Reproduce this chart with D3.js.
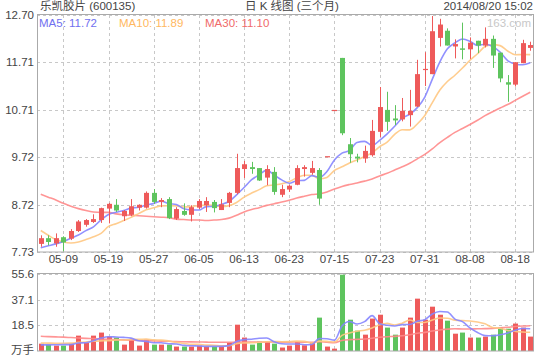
<!DOCTYPE html>
<html><head><meta charset="utf-8">
<script src="https://cdn.jsdelivr.net/npm/d3@7"></script>
<style>
body{margin:0;background:#fff}
svg{display:block}
text{font-family:"Liberation Sans",Arial,"Noto Sans CJK SC",sans-serif}
</style>
</head><body>
<svg id="c" width="540" height="360"></svg>
<script>
// ---- data ----
const dates = ["05-06","05-07","05-08","05-09","05-12","05-13","05-14","05-15","05-16","05-19",
"05-20","05-21","05-22","05-23","05-26","05-27","05-28","05-29","05-30","06-03",
"06-04","06-05","06-06","06-09","06-10","06-11","06-12","06-13","06-16","06-17",
"06-18","06-19","06-20","06-23","06-24","06-25","06-26","06-27","06-30","07-15",
"07-16","07-17","07-18","07-21","07-22","07-23","07-24","07-25","07-28","07-29",
"07-30","07-31","08-01","08-04","08-05","08-06","08-07","08-08","08-11","08-12",
"08-13","08-14","08-15","08-18","08-19","08-20"];
const open = [7.90,8.02,7.91,8.04,8.01,8.17,8.30,8.36,8.40,8.64,
8.72,8.48,8.51,8.66,8.66,8.97,8.78,8.84,8.43,8.59,
8.51,8.66,8.71,8.78,8.61,8.76,8.97,9.47,9.51,9.49,
9.29,9.41,8.93,9.04,9.14,9.47,9.39,9.45,9.74,10.71,
11.80,9.99,9.73,9.69,9.76,10.25,10.71,10.53,10.51,10.60,
10.78,11.55,11.46,12.22,12.37,12.04,12.00,11.98,12.16,12.06,
12.20,11.91,11.29,11.24,11.69,12.01];
const high = [8.08,8.08,8.12,8.06,8.21,8.40,8.42,8.52,8.66,8.76,
8.84,8.61,8.84,8.73,9.00,9.05,8.86,8.88,8.67,8.75,
8.71,8.84,8.88,8.82,8.84,8.99,9.79,9.64,9.62,9.49,
9.55,9.51,9.14,9.14,9.55,9.55,9.64,9.49,9.74,10.71,
11.80,10.12,9.79,9.96,10.50,11.19,11.09,10.81,10.96,11.13,
11.76,11.92,12.68,12.62,12.42,12.19,12.54,12.23,12.16,12.44,
12.27,11.91,11.44,11.71,12.18,12.14];
const low = [7.84,7.87,7.84,7.74,7.98,8.15,8.26,8.34,8.34,8.33,
8.57,8.38,8.48,8.60,8.64,8.74,8.67,8.42,8.40,8.49,
8.37,8.63,8.57,8.56,8.61,8.67,8.94,9.28,9.37,9.22,
9.13,8.93,8.88,8.99,9.13,9.31,9.35,8.72,9.74,10.71,
10.18,9.60,9.61,9.60,9.73,10.14,10.27,10.39,10.47,10.36,
10.77,11.21,11.46,12.04,12.06,11.79,11.77,11.78,11.90,12.02,
11.59,11.29,10.88,11.20,11.69,11.95];
const close = [8.02,7.94,8.02,7.93,8.17,8.37,8.40,8.42,8.65,8.74,
8.60,8.59,8.69,8.72,8.97,8.78,8.82,8.44,8.63,8.51,
8.67,8.80,8.80,8.65,8.73,8.97,9.49,9.57,9.47,9.23,
9.47,8.99,9.05,9.12,9.49,9.51,9.49,8.85,9.74,10.71,
10.22,9.78,9.69,9.85,10.27,10.77,10.46,10.49,10.69,10.69,
11.46,11.57,12.36,12.50,12.06,12.09,11.97,12.12,12.06,12.20,
11.85,11.37,11.24,11.71,12.11,12.07];
const volume = [5.3,4.6,3.9,3.9,5.3,11.1,5.8,11.1,13.3,10.4,
9.7,4.6,8.4,3.9,8.2,4.6,4.6,4.6,3.2,3.2,
3.2,3.9,3.2,3.2,3.2,6.0,19.0,9.7,4.6,6.8,
6.8,5.3,2.5,3.9,7.0,4.1,6.0,24.1,3.2,1.7,
55.1,22.6,14.7,11.8,23.4,26.2,16.9,11.8,16.9,24.1,
37.8,22.6,32.0,26.2,21.9,12.5,13.3,9.7,9.7,10.4,
11.8,16.9,16.1,19.8,16.9,10.4];
const ma5Head = [7.82,7.86,7.90,7.95];
const ma10Head = [8.18,8.08,7.99,7.94,7.92,7.94,7.99,8.05,8.12];
const ma30Head = [8.94,8.88,8.82,8.75,8.69,8.64,8.60,8.57,8.56,8.56,
8.53,8.51,8.50,8.49,8.48,8.47,8.46,8.45,8.42,8.41,
8.40,8.40,8.39,8.40,8.41,8.44,8.50,8.57,8.62];
const volMa5Head = [4.4,4.4,4.5,4.6];
const volMa10Head = [5.8,5.7,5.6,5.6,5.7,6.2,6.5,7.0,7.3];
const volMa30Head = [10.6,10.4,10.2,10.0,9.7,9.4,9.1,8.9,8.6,8.4,
8.2,8.0,7.8,7.6,7.5,7.3,7.1,7.0,6.8,6.7,
6.6,6.5,6.4,6.3,6.3,6.3,6.4,6.4,6.4];
const xTickLabels = ["05-09","05-19","05-27","06-05","06-13","06-23","07-15","07-23","07-31","08-08","08-18"];
const priceTicks = [12.70,11.706,10.712,9.718,8.724,7.73];
const volTicks = [55.6,37.067,18.533];
const legendNames = ["MA5","MA10","MA30"];
const legendValues = ["11.72","11.89","11.10"];
const titleLeft = "乐凯胶片 (600135)";
const titleCenter = "日 K 线图 (三个月)";
const titleRight = "2014/08/20 15:02";

// ---- drawing ----
const svg = d3.select("#c");
const L = 37, R = 534;
const mainTop = 15, mainBot = 252;
const volTop = 274, volBot = 351;
const RED = "#ee5a5a", GREEN = "#5ec45e";
const maColors = ["#8585ff","#ffc883","#ff8a8a"];
const legendColors = ["#7070f0","#ffb860","#f06a6a"];
const idx = d3.range(dates.length);

const x = d3.scaleBand().domain(idx).range([L, R]).padding(0);
const cx = i => x(i) + x.bandwidth()/2;
const y = d3.scaleLinear().domain([7.73, 12.70]).range([mainBot, mainTop]);
const yv = d3.scaleLinear().domain([0, 55.6]).range([volBot, volTop]);

function movingAvg(src, n, head){
  return src.map((v,i)=> i < head.length ? head[i] : d3.mean(src.slice(i-n+1, i+1)));
}
const ma = [movingAvg(close,5,ma5Head), movingAvg(close,10,ma10Head), movingAvg(close,30,ma30Head)];
const vma = [movingAvg(volume,5,volMa5Head), movingAvg(volume,10,volMa10Head), movingAvg(volume,30,volMa30Head)];

const tickIdx = xTickLabels.map(l => dates.indexOf(l));
const gridColor = "#c8c8c8";

function panel(top, bot, ticks, scale){
  const g = svg.append("g");
  // horizontal grid
  g.selectAll("line.h").data(ticks).join("line")
    .attr("x1", L).attr("x2", R)
    .attr("y1", d => Math.round(scale(d))+0.5).attr("y2", d => Math.round(scale(d))+0.5)
    .attr("stroke", gridColor).attr("stroke-dasharray","3,3");
  // vertical grid
  g.selectAll("line.v").data(tickIdx).join("line")
    .attr("x1", d => Math.round(cx(d))+0.5).attr("x2", d => Math.round(cx(d))+0.5)
    .attr("y1", top).attr("y2", bot)
    .attr("stroke", gridColor).attr("stroke-dasharray","3,3");
  return g;
}
panel(mainTop, mainBot, priceTicks, y);
panel(volTop, volBot, volTicks, yv);

// MA lines main
const lineGen = (arr, sc) => d3.line().x((d,i)=>cx(i)).y(d=>sc(d)).curve(d3.curveMonotoneX)(arr);
[2,1,0].forEach(k=>{
  svg.append("path").attr("d", lineGen(ma[k], y)).attr("fill","none")
    .attr("stroke", maColors[k]).attr("stroke-width",1.6).attr("opacity",0.9);
});

// candles
const cg = svg.append("g");
const bw = 5;
cg.selectAll("line.w").data(idx).join("line")
  .attr("x1", i=>Math.round(cx(i))+0.5).attr("x2", i=>Math.round(cx(i))+0.5)
  .attr("y1", i=>y(high[i])).attr("y2", i=>y(low[i]))
  .attr("stroke", i=> close[i] >= open[i] ? RED : GREEN).attr("stroke-width",1);
cg.selectAll("rect").data(idx).join("rect")
  .attr("x", i=>Math.round(cx(i)) - 2)
  .attr("width", bw)
  .attr("y", i=>y(Math.max(open[i],close[i])))
  .attr("height", i=>Math.max(1.2, Math.abs(y(open[i]) - y(close[i]))))
  .attr("fill", i=> close[i] >= open[i] ? RED : GREEN);

// volume bars
svg.append("g").selectAll("rect").data(idx).join("rect")
  .attr("x", i=>Math.round(cx(i)) - 2)
  .attr("width", bw)
  .attr("y", i=>yv(volume[i]))
  .attr("height", i=>volBot - yv(volume[i]))
  .attr("fill", i=> close[i] >= open[i] ? RED : GREEN);
[2,1,0].forEach(k=>{
  svg.append("path").attr("d", lineGen(vma[k], yv)).attr("fill","none")
    .attr("stroke", maColors[k]).attr("stroke-width",1.6).attr("opacity",0.9);
});

// frames
svg.append("rect").attr("x",L+0.5).attr("y",mainTop-0.5).attr("width",R-L-1).attr("height",mainBot-mainTop+0.5)
  .attr("fill","none").attr("stroke","#aaa");
svg.append("rect").attr("x",L+0.5).attr("y",volTop-0.5).attr("width",R-L-1).attr("height",volBot-volTop+0.5)
  .attr("fill","none").attr("stroke","#aaa");

// axis labels
const txt = "#444";
svg.append("g").selectAll("text").data(priceTicks).join("text")
  .attr("x",34).attr("y",d=>y(d)).attr("dy","0.35em").attr("text-anchor","end")
  .attr("font-size",11.5).attr("fill",txt).text(d=>d3.format(".2f")(d));
svg.append("g").selectAll("text").data(volTicks).join("text")
  .attr("x",34).attr("y",d=>yv(d)).attr("dy","0.35em").attr("text-anchor","end")
  .attr("font-size",11.5).attr("fill",txt).text(d=>d3.format(".1f")(d));
svg.append("text").attr("x",34).attr("y",volBot-1).attr("dy","0.35em").attr("text-anchor","end")
  .attr("font-size",11.5).attr("fill",txt).text("万手");
svg.append("g").selectAll("text").data(tickIdx).join("text")
  .attr("x",d=>cx(d)).attr("y",259).attr("dy","0.35em").attr("text-anchor","middle")
  .attr("font-size",11.5).attr("fill",txt).text(d=>dates[d]);

// titles
svg.append("text").attr("x",40).attr("y",10).attr("font-size",11.5).attr("fill",txt).text(titleLeft);
svg.append("text").attr("x",292).attr("y",10).attr("text-anchor","middle").attr("font-size",11.5).attr("fill",txt).text(titleCenter);
svg.append("text").attr("x",533).attr("y",10).attr("text-anchor","end").attr("font-size",11.5).attr("fill",txt).text(titleRight);

// legend
const legX = [39, 119, 205];
legendNames.forEach((n,k)=>{
  svg.append("text").attr("x",legX[k]).attr("y",23).attr("dy","0.35em")
    .attr("font-size",11.5).attr("fill",legendColors[k]).text(n + ": " + legendValues[k]);
});
svg.append("text").attr("x",531).attr("y",23).attr("dy","0.35em").attr("text-anchor","end")
  .attr("font-size",11.5).attr("fill","#c8c8c8").text("163.com");
</script>
</body></html>
